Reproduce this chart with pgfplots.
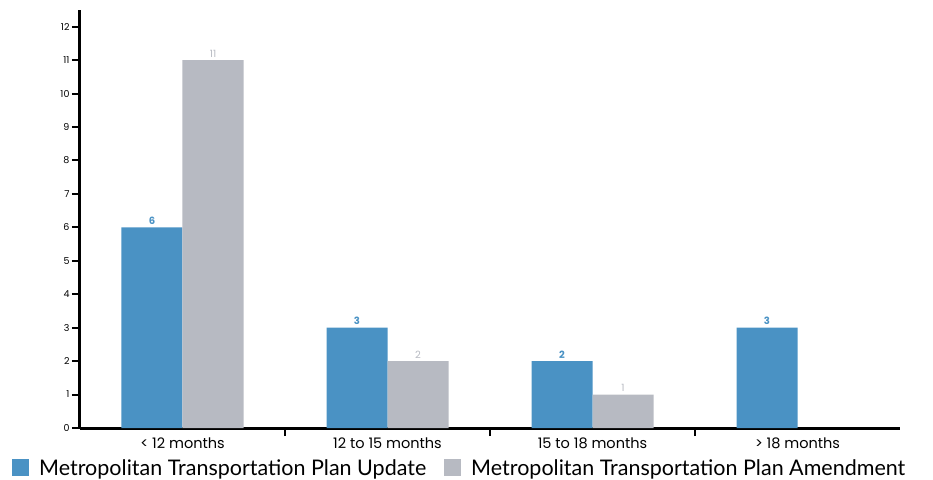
\documentclass[border=0pt]{standalone}
\usepackage{fontspec}
\setmainfont{Poppins}
\newfontfamily\leg{Lato}
\usepackage{pgfplots}
\pgfplotsset{compat=1.18}
\definecolor{mblue}{HTML}{4A92C4}
\definecolor{mgray}{HTML}{B7BAC2}
\begin{document}
\begin{tikzpicture}
\useasboundingbox (-80bp,-52bp) rectangle (853bp,428bp);
\begin{axis}[
  at={(0,0)}, anchor=south west,
  scale only axis, width=820bp, height=418bp,
  xmin=-0.5, xmax=3.5, ymin=0, ymax=12.5,
  ybar=0pt, bar width=61bp,
  axis x line*=bottom, axis y line*=left,
  axis line style={-, line width=3bp, black},
  every tick/.style={black, line width=2bp},
  tick align=outside, major tick length=8bp,
  xtick pos=bottom, ytick pos=left,
  xtick={0,1,2,3},
  xticklabels={{< 12 months},{12 to 15 months},{15 to 18 months},{> 18 months}},
  x tick style={draw=none},
  extra x ticks={0.5,1.5,2.5},
  extra x tick labels={},
  extra x tick style={x tick style={black, line width=2bp, draw=black}},
  ytick={0,1,...,12},
  /pgf/number format/assume math mode=true,
  yticklabel style={font=\fontsize{9.5bp}{11bp}\selectfont, xshift=1bp},
  xticklabel style={font=\fontsize{14.5bp}{16bp}\selectfont, yshift=1.5bp},
  legend style={draw=none, legend columns=2, at={(axis description cs:-0.0829,-0.0945)}, anchor=west,
    font=\fontsize{21.5bp}{25bp}\selectfont\leg, inner sep=0pt,
    /tikz/every even column/.append style={column sep=18bp},
    nodes={inner sep=0pt, text depth=0pt}},
  legend image code/.code={\fill[#1] (0bp,-8.5bp) rectangle (17bp,8.5bp); \path (27bp,0) ;},
]
\addplot[fill=mblue, draw=none, nodes near coords,
  every node near coord/.append style={text=mblue, font=\fontsize{10bp}{11bp}\selectfont\bfseries, inner sep=2.5bp}]
  coordinates {(0,6) (1,3) (2,2) (3,3)};
\addlegendentry{Metropolitan Transportation Plan Update}
\addplot[fill=mgray, draw=none, nodes near coords,
  every node near coord/.append style={text=mgray, font=\fontsize{10bp}{11bp}\selectfont, inner sep=2.5bp}]
  coordinates {(0,11) (1,2) (2,1)};
\addlegendentry{Metropolitan Transportation Plan Amendment}
\end{axis}
\end{tikzpicture}
\end{document}
